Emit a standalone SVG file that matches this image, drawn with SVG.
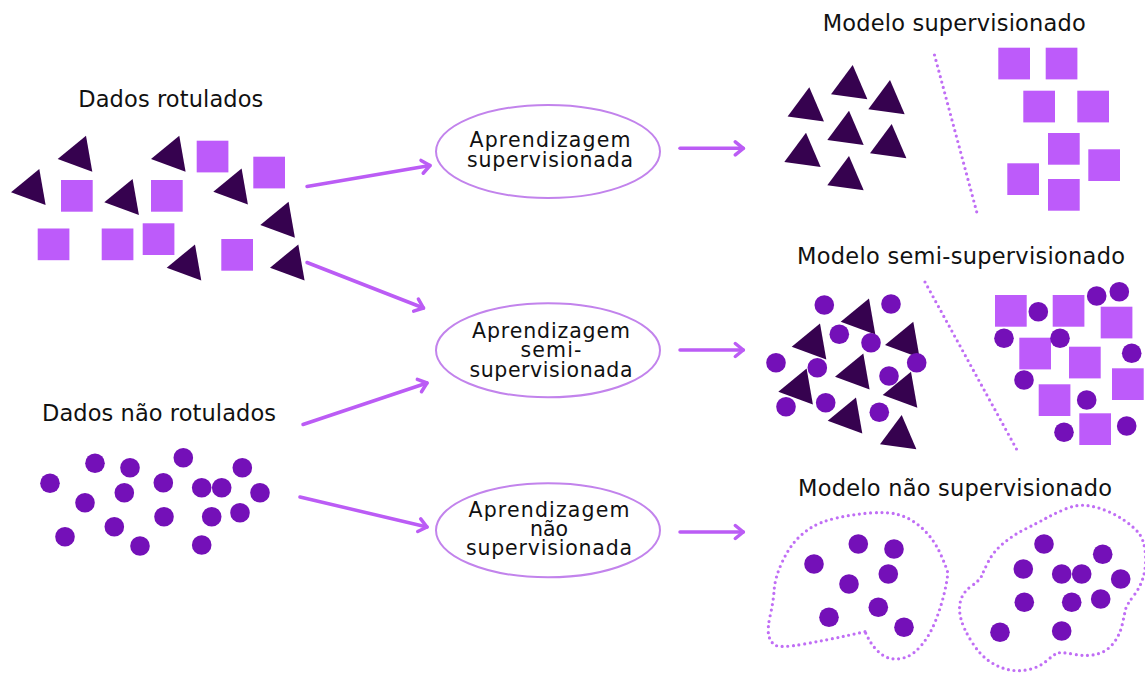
<svg xmlns="http://www.w3.org/2000/svg" xmlns:xlink="http://www.w3.org/1999/xlink" width="1145" height="675" viewBox="0 0 1145 675">
<style>
.hdr{font-family:"DejaVu Sans","Liberation Sans",sans-serif;font-size:22.5px;fill:#111}
.lbl{font-family:"DejaVu Sans","Liberation Sans",sans-serif;font-size:20.5px;fill:#111;text-anchor:middle}
.tri{fill:#36024f}
.sq{fill:#bd5bfa}
.dot{fill:#7410b8}
.ell{fill:none;stroke:#c283ec;stroke-width:2}
.arr{fill:none;stroke:#bb5cf5;stroke-width:3.5;stroke-linecap:round;marker-end:url(#ah)}
.dots{fill:none;stroke:#c06ef5;stroke-width:3.2;stroke-dasharray:0 5.6;stroke-linecap:round}
</style>
<defs>
<marker id="ah" markerUnits="userSpaceOnUse" viewBox="0 0 14 18" markerWidth="14" markerHeight="18" refX="11" refY="9" orient="auto">
<path d="M3,2.5 L11,9 L3,15.5" fill="none" stroke="#bb5cf5" stroke-width="3.5" stroke-linecap="round" stroke-linejoin="round"/>
</marker>
<path id="triL" d="M0,0 L28.3,-23.3 L34.6,12.7 Z"/>
<path id="triU" d="M0,0 L-21.7,29.3 L14.7,34.3 Z"/>
<rect id="sqr" width="31.7" height="31.7"/>
<circle id="crc" r="9.8"/>
</defs>
<rect width="1145" height="675" fill="#fff"/>

<g id="labeled-data">
<text class="hdr" x="78.3" y="107.3" textLength="185" lengthAdjust="spacing">Dados rotulados</text>
<g class="tri">
<use xlink:href="#triL" x="57.7" y="159"/>
<use xlink:href="#triL" x="151" y="159"/>
<use xlink:href="#triL" x="11" y="192.3"/>
<use xlink:href="#triL" x="104.3" y="202.3"/>
<use xlink:href="#triL" x="213.3" y="191.7"/>
<use xlink:href="#triL" x="260.3" y="225"/>
<use xlink:href="#triL" x="166.7" y="267.7"/>
<use xlink:href="#triL" x="270" y="267.7"/>
</g>
<g class="sq">
<use xlink:href="#sqr" x="196.7" y="140.7"/>
<use xlink:href="#sqr" x="253.3" y="156.7"/>
<use xlink:href="#sqr" x="61" y="180"/>
<use xlink:href="#sqr" x="151" y="180"/>
<use xlink:href="#sqr" x="37.7" y="228.5"/>
<use xlink:href="#sqr" x="101.7" y="228.5"/>
<use xlink:href="#sqr" x="142.7" y="223.3"/>
<use xlink:href="#sqr" x="221.3" y="239"/>
</g>
</g>

<g id="unlabeled-data">
<text class="hdr" x="42" y="420.5" textLength="234" lengthAdjust="spacing">Dados não rotulados</text>
<g class="dot">
<use xlink:href="#crc" x="50" y="483.3"/>
<use xlink:href="#crc" x="95" y="463.3"/>
<use xlink:href="#crc" x="130" y="467.7"/>
<use xlink:href="#crc" x="183.3" y="457.7"/>
<use xlink:href="#crc" x="242.3" y="467.7"/>
<use xlink:href="#crc" x="85" y="502.7"/>
<use xlink:href="#crc" x="124.3" y="492.7"/>
<use xlink:href="#crc" x="163.3" y="482.7"/>
<use xlink:href="#crc" x="201.7" y="487.7"/>
<use xlink:href="#crc" x="221.7" y="487.7"/>
<use xlink:href="#crc" x="260" y="492.7"/>
<use xlink:href="#crc" x="65" y="536.7"/>
<use xlink:href="#crc" x="114.3" y="526.7"/>
<use xlink:href="#crc" x="164" y="516.7"/>
<use xlink:href="#crc" x="211.7" y="516.7"/>
<use xlink:href="#crc" x="240" y="512.7"/>
<use xlink:href="#crc" x="140" y="546"/>
<use xlink:href="#crc" x="201.7" y="545"/>
</g>
</g>

<g id="learn-supervised">
<ellipse class="ell" cx="548" cy="151.5" rx="112" ry="46.5"/>
<text class="lbl" x="550" y="146.5" textLength="161" lengthAdjust="spacing">Aprendizagem</text>
<text class="lbl" x="550" y="166.5" textLength="166" lengthAdjust="spacing">supervisionada</text>
</g>

<g id="learn-semi">
<ellipse class="ell" cx="548" cy="350.3" rx="112" ry="47"/>
<text class="lbl" x="551" y="337.5" textLength="158" lengthAdjust="spacing">Aprendizagem</text>
<text class="lbl" x="551" y="357" textLength="61" lengthAdjust="spacing">semi-</text>
<text class="lbl" x="551" y="376.5" textLength="163" lengthAdjust="spacing">supervisionada</text>
</g>

<g id="learn-unsupervised">
<ellipse class="ell" cx="548" cy="530.3" rx="112" ry="47"/>
<text class="lbl" x="549" y="517" textLength="161" lengthAdjust="spacing">Aprendizagem</text>
<text class="lbl" x="549" y="536">não</text>
<text class="lbl" x="549" y="555" textLength="166" lengthAdjust="spacing">supervisionada</text>
</g>

<g id="model-supervised">
<text class="hdr" x="822.7" y="30.7" textLength="263" lengthAdjust="spacing">Modelo supervisionado</text>
<g class="tri">
<use xlink:href="#triU" x="809.3" y="87.3"/>
<use xlink:href="#triU" x="852.7" y="65"/>
<use xlink:href="#triU" x="890" y="80"/>
<use xlink:href="#triU" x="849" y="110.7"/>
<use xlink:href="#triU" x="806" y="132.7"/>
<use xlink:href="#triU" x="891.7" y="124"/>
<use xlink:href="#triU" x="849" y="156"/>
</g>
<line class="dots" x1="934.5" y1="55" x2="977" y2="213"/>
<g class="sq">
<use xlink:href="#sqr" x="998.3" y="47.7"/>
<use xlink:href="#sqr" x="1045.7" y="47.7"/>
<use xlink:href="#sqr" x="1023.3" y="90.7"/>
<use xlink:href="#sqr" x="1077.3" y="90.7"/>
<use xlink:href="#sqr" x="1048" y="133"/>
<use xlink:href="#sqr" x="1088.3" y="149.3"/>
<use xlink:href="#sqr" x="1007.3" y="163.3"/>
<use xlink:href="#sqr" x="1048" y="179"/>
</g>
</g>

<g id="model-semi">
<text class="hdr" x="797" y="263.5" textLength="328" lengthAdjust="spacing">Modelo semi-supervisionado</text>
<g class="tri">
<use xlink:href="#triL" x="840.7" y="321.7"/>
<use xlink:href="#triL" x="791.7" y="346.7"/>
<use xlink:href="#triL" x="885" y="345"/>
<use xlink:href="#triL" x="835" y="376.7"/>
<use xlink:href="#triL" x="778.3" y="391.7"/>
<use xlink:href="#triL" x="882.7" y="395"/>
<use xlink:href="#triL" x="827.7" y="420.7"/>
<use xlink:href="#triU" x="901.7" y="415"/>
</g>
<g class="dot">
<use xlink:href="#crc" x="824.3" y="305"/>
<use xlink:href="#crc" x="891" y="304"/>
<use xlink:href="#crc" x="839.3" y="334.3"/>
<use xlink:href="#crc" x="871" y="342.7"/>
<use xlink:href="#crc" x="776" y="362.7"/>
<use xlink:href="#crc" x="817.3" y="367.7"/>
<use xlink:href="#crc" x="916.7" y="362.7"/>
<use xlink:href="#crc" x="889" y="376"/>
<use xlink:href="#crc" x="786" y="406.7"/>
<use xlink:href="#crc" x="825.7" y="402.7"/>
<use xlink:href="#crc" x="879.3" y="412.3"/>
</g>
<line class="dots" x1="925" y1="282" x2="1017" y2="450"/>
<g class="sq">
<use xlink:href="#sqr" x="995" y="295"/>
<use xlink:href="#sqr" x="1052.7" y="295"/>
<use xlink:href="#sqr" x="1100.7" y="306.7"/>
<use xlink:href="#sqr" x="1019.3" y="337.7"/>
<use xlink:href="#sqr" x="1069" y="346.7"/>
<use xlink:href="#sqr" x="1112" y="368.3"/>
<use xlink:href="#sqr" x="1038.7" y="384.3"/>
<use xlink:href="#sqr" x="1079.3" y="413.3"/>
</g>
<g class="dot">
<use xlink:href="#crc" x="1038.3" y="311.7"/>
<use xlink:href="#crc" x="1096.7" y="296"/>
<use xlink:href="#crc" x="1119.3" y="291.7"/>
<use xlink:href="#crc" x="1004" y="338.3"/>
<use xlink:href="#crc" x="1060" y="338.3"/>
<use xlink:href="#crc" x="1131.7" y="353.3"/>
<use xlink:href="#crc" x="1024" y="380"/>
<use xlink:href="#crc" x="1086.7" y="400"/>
<use xlink:href="#crc" x="1064" y="432.3"/>
<use xlink:href="#crc" x="1126.7" y="426"/>
</g>
</g>

<g id="model-unsupervised">
<text class="hdr" x="798" y="495.5" textLength="314" lengthAdjust="spacing">Modelo não supervisionado</text>
<path class="dots" d="M865,631.7 L845.85,635.85 Q826.7,640 803.35,644.15 Q780,648.3 775,645 Q770,641.7 768.65,635 Q767.3,628.3 770.3,615 Q773.3,601.7 774.15,590 Q775,578.3 780.85,565 Q786.7,551.7 793.35,543.35 Q800,535 810,528.35 Q820,521.7 836.65,518 Q853.3,514.3 870,513 Q886.7,511.7 896.7,514.2 Q906.7,516.7 915,522.5 Q923.3,528.3 930,536.65 Q936.7,545 941.7,556.65 Q946.7,568.3 947.5,571.65 Q948.3,575 945,590 Q941.7,605 935.850,620 Q930,635 921.65,645 Q913.3,655 905,657.5 Q896.7,660 890,658.35 Q883.3,656.7 877.5,650.85 Q871.7,645 868.35,638.35 Z"/>
<path class="dots" d="M1045.85,518.3 Q1055,513.3 1065.85,508.8 Q1076.7,504.3 1086.7,505.5 Q1096.7,506.7 1106.7,510.85 Q1116.7,515 1125,520.85 Q1133.3,526.7 1138.3,532.5 Q1143.3,538.3 1145,550 Q1146.7,561.7 1144.2,573.35 Q1141.7,585 1134.2,595 Q1126.7,605 1125.85,608.35 Q1125,611.7 1122.5,623.35 Q1120,635 1113.35,643.35 Q1106.7,651.7 1096.7,654.2 Q1086.7,656.7 1073.35,654.2 Q1060,651.7 1056.65,653.35 Q1053.3,655 1046.65,660.85 Q1040,666.7 1030,669.2 Q1020,671.7 1010,670 Q1000,668.3 990,661.65 Q980,655 971.65,641.65 Q963.3,628.3 960.8,618.3 Q958.3,608.3 960.8,600 Q963.3,591.7 971.65,585.85 Q980,580 981.65,575.85 Q983.3,571.7 988.3,561.7 Q993.3,551.7 1003.3,543.35 Q1013.3,535 1025,529.15 Q1036.7,523.3 1045.85,518.3 Z"/>
<g class="dot">
<use xlink:href="#crc" x="814" y="564"/>
<use xlink:href="#crc" x="858.3" y="544"/>
<use xlink:href="#crc" x="894" y="549"/>
<use xlink:href="#crc" x="849" y="584"/>
<use xlink:href="#crc" x="888.3" y="574"/>
<use xlink:href="#crc" x="878.3" y="607.3"/>
<use xlink:href="#crc" x="829" y="617.3"/>
<use xlink:href="#crc" x="904" y="627.3"/>
<use xlink:href="#crc" x="1044" y="544"/>
<use xlink:href="#crc" x="1102.7" y="554.3"/>
<use xlink:href="#crc" x="1023.3" y="569"/>
<use xlink:href="#crc" x="1061.7" y="574"/>
<use xlink:href="#crc" x="1081.7" y="574"/>
<use xlink:href="#crc" x="1120.7" y="579"/>
<use xlink:href="#crc" x="1024.3" y="602.3"/>
<use xlink:href="#crc" x="1071.7" y="602.3"/>
<use xlink:href="#crc" x="1100.7" y="599"/>
<use xlink:href="#crc" x="1000" y="632.3"/>
<use xlink:href="#crc" x="1061.7" y="631"/>
</g>
</g>

<g id="connectors">
<line class="arr" x1="307" y1="186.5" x2="430" y2="165.5"/>
<line class="arr" x1="307" y1="262.5" x2="423.5" y2="308"/>
<line class="arr" x1="303" y1="424.5" x2="427" y2="383"/>
<line class="arr" x1="300" y1="497" x2="427" y2="527"/>
<line class="arr" x1="680" y1="148.3" x2="743.3" y2="148.3"/>
<line class="arr" x1="680" y1="350" x2="743.3" y2="350"/>
<line class="arr" x1="680" y1="532" x2="743.3" y2="532"/>
</g>
</svg>
